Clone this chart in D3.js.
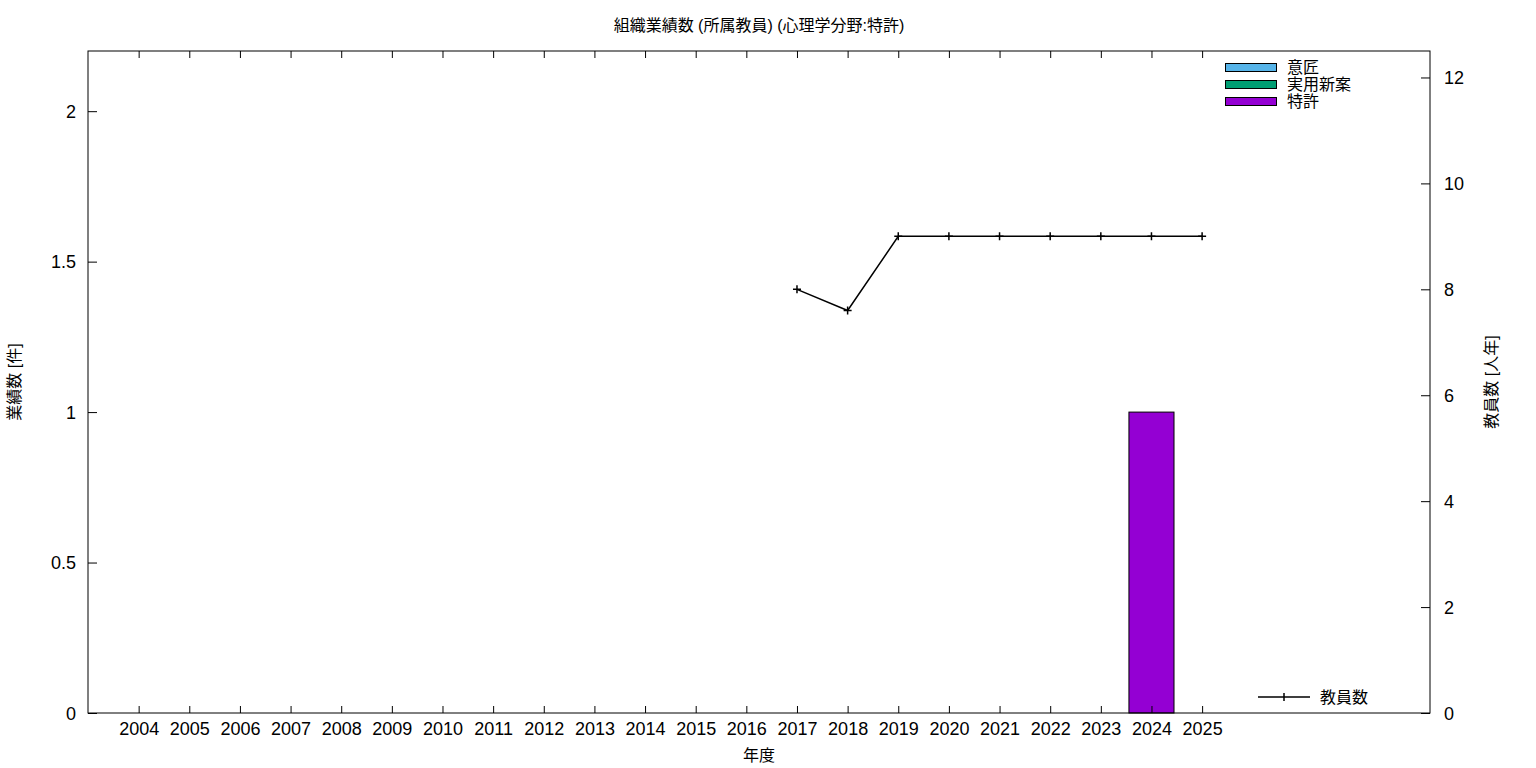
<!DOCTYPE html>
<html><head><meta charset="utf-8">
<script src="https://cdn.jsdelivr.net/npm/d3@7"></script>
<style>body{margin:0;background:#fff}svg{display:block}text{font-family:"Liberation Sans","Noto Sans CJK JP",sans-serif;fill:#000}</style>
</head><body>
<script>
const years = ["2004","2005","2006","2007","2008","2009","2010","2011","2012","2013","2014","2015","2016","2017","2018","2019","2020","2021","2022","2023","2024","2025"];
const designCounts = [0,0,0,0,0,0,0,0,0,0,0,0,0,0,0,0,0,0,0,0,0,0];
const utilityCounts = [0,0,0,0,0,0,0,0,0,0,0,0,0,0,0,0,0,0,0,0,0,0];
const patentCounts = [0,0,0,0,0,0,0,0,0,0,0,0,0,0,0,0,0,0,0,0,1,0];
const staffYears = ["2017","2018","2019","2020","2021","2022","2023","2024","2025"];
const staffCounts = [8,7.6,9,9,9,9,9,9,9];
const leftTicks = [0,0.5,1,1.5,2];
const rightTicks = [0,2,4,6,8,10,12];
const seriesNames = ["意匠","実用新案","特許"];
const seriesColors = ["#56b4e9","#009e73","#9400d3"];

const W=1536,H=768, L=88,R=1430,T=51,B=713;
const svg=d3.select("body").append("svg").attr("width",W).attr("height",H);
const x=d3.scaleLinear().domain([-1,25.5]).range([L,R]);
const yL=d3.scaleLinear().domain([0,2.2]).range([B,T]);
const yR=d3.scaleLinear().domain([0,12.5]).range([B,T]);
const idx=y=>years.indexOf(y);

// bars (stacked)
const series=[designCounts,utilityCounts,patentCounts];
years.forEach((yr,i)=>{
  let base=0;
  series.forEach((s,k)=>{
    const v=s[i];
    if(v>0){
      svg.append("rect").attr("x",x(i-0.445)).attr("width",x(0.445)-x(-0.445))
        .attr("y",yL(base+v)).attr("height",yL(base)-yL(base+v))
        .attr("fill",seriesColors[k]).attr("stroke","#000").attr("stroke-width",1);
    }
    base+=v;
  });
});

// staff line
const line=d3.line().x(d=>x(idx(d[0]))).y(d=>yR(d[1]));
const pts=staffYears.map((y,i)=>[y,staffCounts[i]]);
svg.append("path").attr("d",line(pts)).attr("fill","none").attr("stroke","#000").attr("stroke-width",1.5);
pts.forEach(p=>{
  const cx=x(idx(p[0])),cy=yR(p[1]);
  svg.append("path").attr("d",`M${cx-4},${cy}H${cx+4}M${cx},${cy-4}V${cy+4}`).attr("stroke","#000").attr("stroke-width",1.5);
});

// frame
svg.append("rect").attr("x",L).attr("y",T).attr("width",R-L).attr("height",B-T).attr("fill","none").attr("stroke","#000").attr("stroke-width",1);

// axes
const gx=svg.append("g").attr("transform",`translate(0,${B})`)
  .call(d3.axisBottom(x).tickValues(d3.range(years.length)).tickFormat(i=>years[i]).tickSizeInner(-7).tickSizeOuter(0).tickPadding(9));
const gxt=svg.append("g").attr("transform",`translate(0,${T})`)
  .call(d3.axisTop(x).tickValues(d3.range(years.length)).tickFormat("").tickSizeInner(-7).tickSizeOuter(0));
const gl=svg.append("g").attr("transform",`translate(${L},0)`)
  .call(d3.axisLeft(yL).tickValues(leftTicks).tickFormat(d=>d).tickSizeInner(-9).tickSizeOuter(0).tickPadding(12));
const gr=svg.append("g").attr("transform",`translate(${R},0)`)
  .call(d3.axisRight(yR).tickValues(rightTicks).tickFormat(d=>d).tickSizeInner(-9).tickSizeOuter(0).tickPadding(14));
[gx,gxt,gl,gr].forEach(g=>{g.select(".domain").remove();g.selectAll("line").attr("stroke","#000");g.selectAll("text").style("font-size","18px").attr("fill","#000").style("font-family",'"Liberation Sans","Noto Sans CJK JP",sans-serif');});
gl.selectAll("text").attr("dy","0.35em");
gr.selectAll("text").attr("dy","0.35em");

// titles
svg.append("text").attr("x",759).attr("y",31).attr("text-anchor","middle").style("font-size","16px").text("組織業績数 (所属教員) (心理学分野:特許)");
svg.append("text").attr("x",759).attr("y",761).attr("text-anchor","middle").style("font-size","16px").text("年度");
svg.append("text").attr("transform","translate(20,382) rotate(-90)").attr("text-anchor","middle").style("font-size","16px").text("業績数 [件]");
svg.append("text").attr("transform","translate(1497,382) rotate(-90)").attr("text-anchor","middle").style("font-size","16px").text("教員数 [人年]");

// legend
seriesNames.forEach((n,k)=>{
  const yy=63+k*17;
  svg.append("rect").attr("x",1225.5).attr("y",yy+0.5).attr("width",51).attr("height",8).attr("fill",seriesColors[k]).attr("stroke","#000").attr("stroke-width",1);
  svg.append("text").attr("x",1287).attr("y",yy+10).style("font-size","16px").text(n);
});
svg.append("path").attr("d","M1258,697H1310M1284,693V701").attr("stroke","#000").attr("stroke-width",1.5);
svg.append("text").attr("x",1320).attr("y",703).style("font-size","16px").text("教員数");
</script>
</body></html>
